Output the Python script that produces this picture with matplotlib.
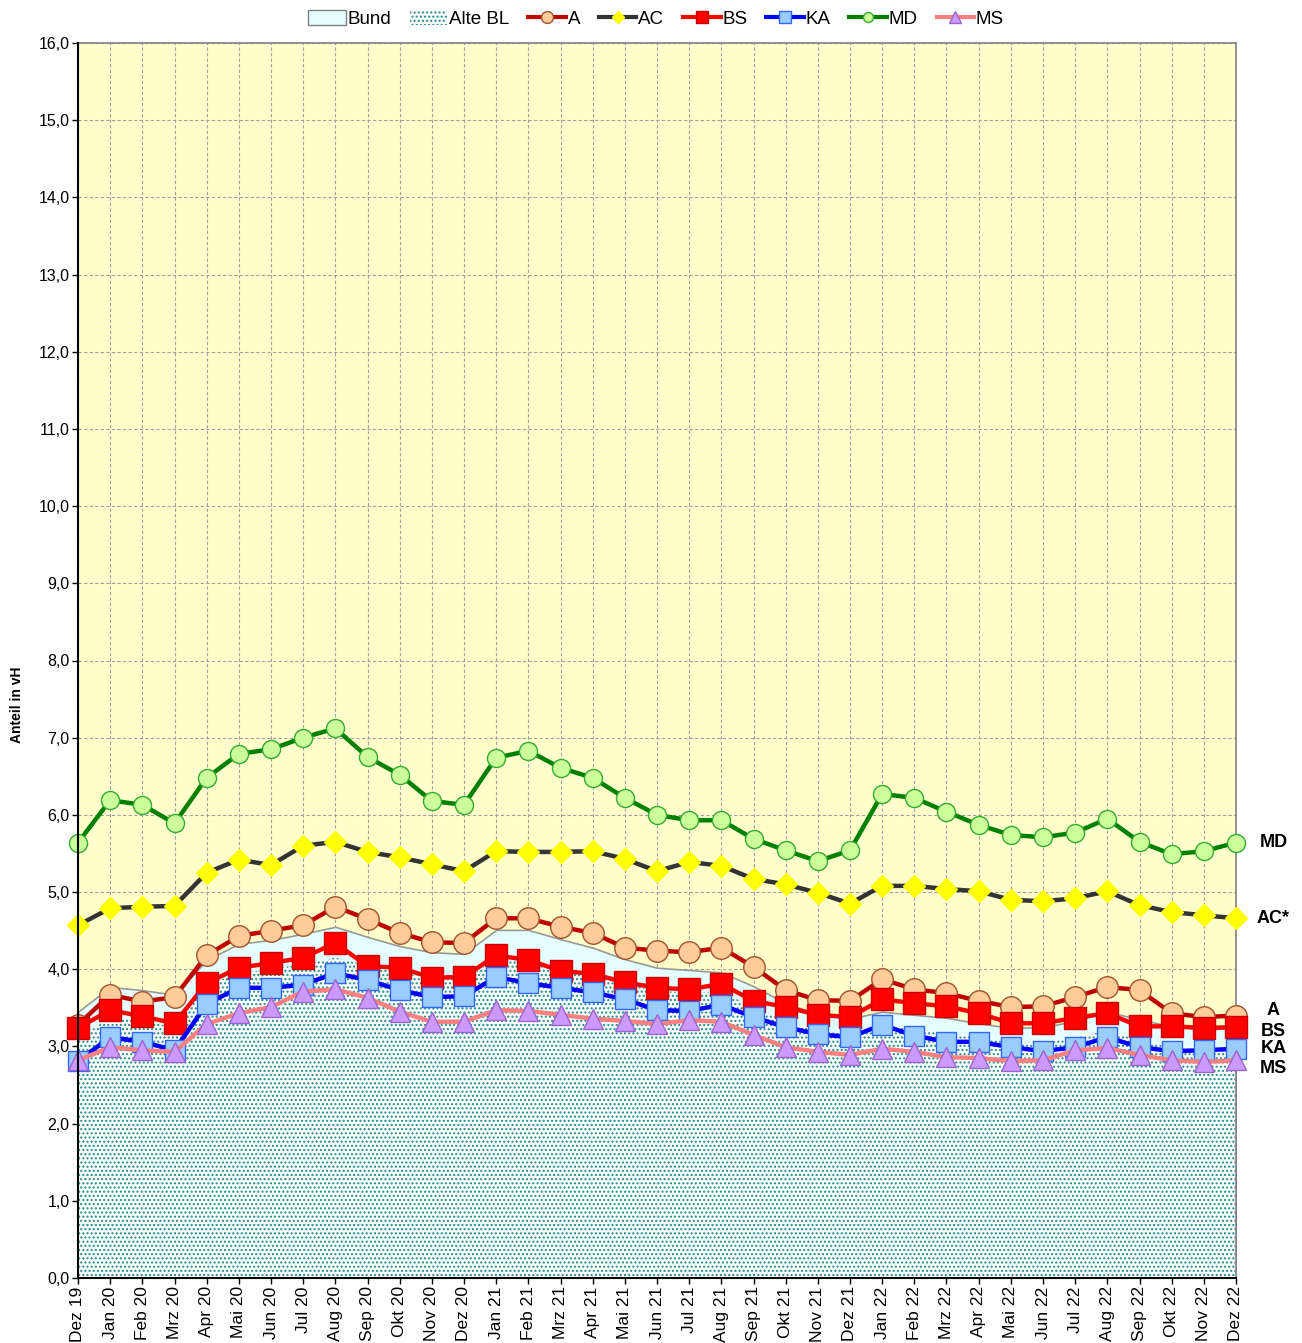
import matplotlib
matplotlib.use('Agg')
import matplotlib.pyplot as plt
import numpy as np
from matplotlib.patches import Patch
from matplotlib.lines import Line2D

plt.rcParams['font.family'] = ['Liberation Sans', 'DejaVu Sans']
plt.rcParams['hatch.linewidth'] = 1.0

monate = ['Dez 19', 'Jan 20', 'Feb 20', 'Mrz 20', 'Apr 20', 'Mai 20', 'Jun 20', 'Jul 20', 'Aug 20',
          'Sep 20', 'Okt 20', 'Nov 20', 'Dez 20', 'Jan 21', 'Feb 21', 'Mrz 21', 'Apr 21', 'Mai 21',
          'Jun 21', 'Jul 21', 'Aug 21', 'Sep 21', 'Okt 21', 'Nov 21', 'Dez 21', 'Jan 22', 'Feb 22',
          'Mrz 22', 'Apr 22', 'Mai 22', 'Jun 22', 'Jul 22', 'Aug 22', 'Sep 22', 'Okt 22', 'Nov 22', 'Dez 22']

bund = [3.45, 3.77, 3.73, 3.67, 4.12, 4.33, 4.38, 4.46, 4.55, 4.42, 4.30, 4.22, 4.20, 4.51, 4.51, 4.39,
        4.28, 4.13, 4.02, 3.99, 3.96, 3.78, 3.56, 3.42, 3.36, 3.45, 3.41, 3.37, 3.30, 3.24, 3.25, 3.33,
        3.45, 3.35, 3.26, 3.22, 3.24]
alte_bl = [3.10, 3.38, 3.33, 3.25, 3.80, 3.95, 4.00, 4.07, 4.15, 4.05, 3.97, 3.87, 3.88, 4.12, 4.10, 4.00,
           3.93, 3.82, 3.72, 3.70, 3.70, 3.52, 3.32, 3.20, 3.16, 3.28, 3.22, 3.17, 3.12, 3.05, 3.05, 3.12,
           3.20, 3.08, 3.00, 2.98, 3.00]

a = [3.28, 3.67, 3.58, 3.64, 4.18, 4.43, 4.50, 4.57, 4.81, 4.65, 4.47, 4.35, 4.34, 4.66, 4.66, 4.55,
     4.47, 4.28, 4.24, 4.22, 4.28, 4.03, 3.73, 3.60, 3.59, 3.87, 3.74, 3.69, 3.59, 3.51, 3.52, 3.64,
     3.77, 3.73, 3.43, 3.38, 3.40]
ac = [4.57, 4.79, 4.81, 4.82, 5.25, 5.42, 5.35, 5.60, 5.65, 5.52, 5.45, 5.36, 5.27, 5.53, 5.52, 5.52,
      5.53, 5.43, 5.27, 5.39, 5.34, 5.17, 5.10, 4.99, 4.85, 5.08, 5.08, 5.04, 5.01, 4.90, 4.88, 4.92,
      5.01, 4.83, 4.74, 4.70, 4.66]
bs = [3.24, 3.47, 3.39, 3.30, 3.82, 4.02, 4.08, 4.15, 4.34, 4.04, 4.02, 3.89, 3.90, 4.18, 4.12, 3.98,
      3.94, 3.83, 3.76, 3.74, 3.81, 3.59, 3.51, 3.41, 3.38, 3.61, 3.56, 3.52, 3.43, 3.30, 3.30, 3.37,
      3.43, 3.26, 3.26, 3.24, 3.25]
ka = [2.81, 3.12, 3.06, 2.95, 3.55, 3.76, 3.76, 3.80, 3.95, 3.86, 3.73, 3.64, 3.65, 3.90, 3.82, 3.76,
      3.70, 3.61, 3.47, 3.46, 3.54, 3.38, 3.25, 3.16, 3.12, 3.28, 3.14, 3.06, 3.06, 2.99, 2.94, 2.99,
      3.12, 2.99, 2.94, 2.95, 2.97]
md = [5.64, 6.19, 6.13, 5.89, 6.48, 6.79, 6.85, 7.00, 7.12, 6.75, 6.52, 6.18, 6.13, 6.74, 6.83, 6.61,
      6.48, 6.22, 6.00, 5.93, 5.93, 5.69, 5.54, 5.40, 5.54, 6.27, 6.22, 6.04, 5.87, 5.74, 5.71, 5.77,
      5.95, 5.65, 5.49, 5.53, 5.64]
ms = [2.82, 2.99, 2.95, 2.93, 3.29, 3.43, 3.51, 3.71, 3.74, 3.63, 3.45, 3.32, 3.32, 3.47, 3.46, 3.41,
      3.36, 3.33, 3.29, 3.34, 3.32, 3.15, 2.99, 2.93, 2.89, 2.97, 2.93, 2.86, 2.85, 2.81, 2.82, 2.95,
      2.98, 2.89, 2.82, 2.80, 2.82]

x = np.arange(len(monate))

fig = plt.figure(figsize=(13.02, 13.43), dpi=100)
ax = fig.add_axes([78 / 1302, 1 - 1278 / 1343, (1236 - 78) / 1302, (1278 - 43) / 1343])
ax.set_facecolor('#FFFFCC')

# Flaechen
ax.fill_between(x, 0, bund, facecolor='#E5FFFF', edgecolor='#999999', linewidth=1.2, zorder=1)
ax.fill_between(x, 0, alte_bl, facecolor='white', edgecolor='#1F8A8A', hatch='....', linewidth=0, zorder=2)

# Linien: (name, werte, linienfarbe, marker, markersize, face, edge)
serien = [
    ('MD', md, '#008000', 'o', 13, '#CCFF99', '#33AA33'),
    ('AC', ac, '#333333', 'D', 11.5, '#FFFF00', '#FFFF00'),
    ('A', a, '#C00000', 'o', 15.5, '#FFCC99', '#A0522D'),
    ('BS', bs, '#FF0000', 's', 15.5, '#FF0000', '#CC0000'),
    ('KA', ka, '#0000FF', 's', 15, '#99CCFF', '#3366FF'),
    ('MS', ms, '#FF8080', '^', 15, '#CC99FF', '#9966CC'),
]
z = 3
for name, werte, lc, m, msz, fc, ec in serien:
    ax.plot(x, werte, color=lc, lw=3.2, marker=m, markersize=msz, markerfacecolor=fc,
            markeredgecolor=ec, markeredgewidth=1, zorder=z, clip_on=False)
    z += 1

ax.set_xlim(0, len(monate) - 1)
ax.set_ylim(0, 16)
ax.set_yticks(np.arange(0, 17, 1))
ax.set_yticklabels([('%.1f' % v).replace('.', ',') for v in np.arange(0, 17, 1)], fontsize=11.5)
ax.set_xticks(x)
ax.set_xticklabels(monate, rotation=90, fontsize=12.5)
ax.tick_params(direction='out', length=4, width=1, pad=2)
ax.grid(True, color='#A0A0A0', linestyle=(0, (3, 2)), linewidth=0.8, zorder=0)
ax.set_axisbelow(True)
for s in ['left', 'bottom']:
    ax.spines[s].set_color('black')
    ax.spines[s].set_linewidth(1.5)
    ax.spines[s].set_zorder(20)
for s in ['top', 'right']:
    ax.spines[s].set_color('#808080')
    ax.spines[s].set_linewidth(1.2)

fig.text(17 / 1302, 1 - 705 / 1343, 'Anteil in vH', rotation=90, ha='center', va='center',
         fontsize=10, fontweight='bold')

# Beschriftungen rechts
namen = ['MD', 'AC*', 'A', 'BS', 'KA', 'MS']
letzte = [md[-1], ac[-1], a[-1], bs[-1], ka[-1], ms[-1]]
versatz = [0.0, 0.0, 0.06, -0.05, 0.0, -0.11]
for n, v, d in zip(namen, letzte, versatz):
    ax.annotate(n, xy=(len(monate) - 1, v + d), xytext=(27, 0), textcoords='offset points',
                ha='center', va='center', fontsize=13, fontweight='bold', annotation_clip=False)

# Legende
handles = [Patch(facecolor='#E5FFFF', edgecolor='#808080', label='Bund'),
           Patch(facecolor='white', edgecolor='#1F8A8A', hatch='....', linewidth=0, label='Alte BL')]
lookup = {s[0]: s for s in serien}
for key in ['A', 'AC', 'BS', 'KA', 'MD', 'MS']:
    name, werte, lc, m, msz, fc, ec = lookup[key]
    handles.append(Line2D([], [], color=lc, lw=3, marker=m, markersize=msz * 0.55,
                          markerfacecolor=fc, markeredgecolor=ec, label=name))
fig.legend(handles=handles, loc='center', bbox_to_anchor=(656 / 1302, 1 - 19 / 1343), ncol=8,
           frameon=False, fontsize=13.5, handlelength=2.0, handletextpad=0.1, columnspacing=1.0,
           handleheight=0.8)

fig.savefig('out.png', dpi=100)
